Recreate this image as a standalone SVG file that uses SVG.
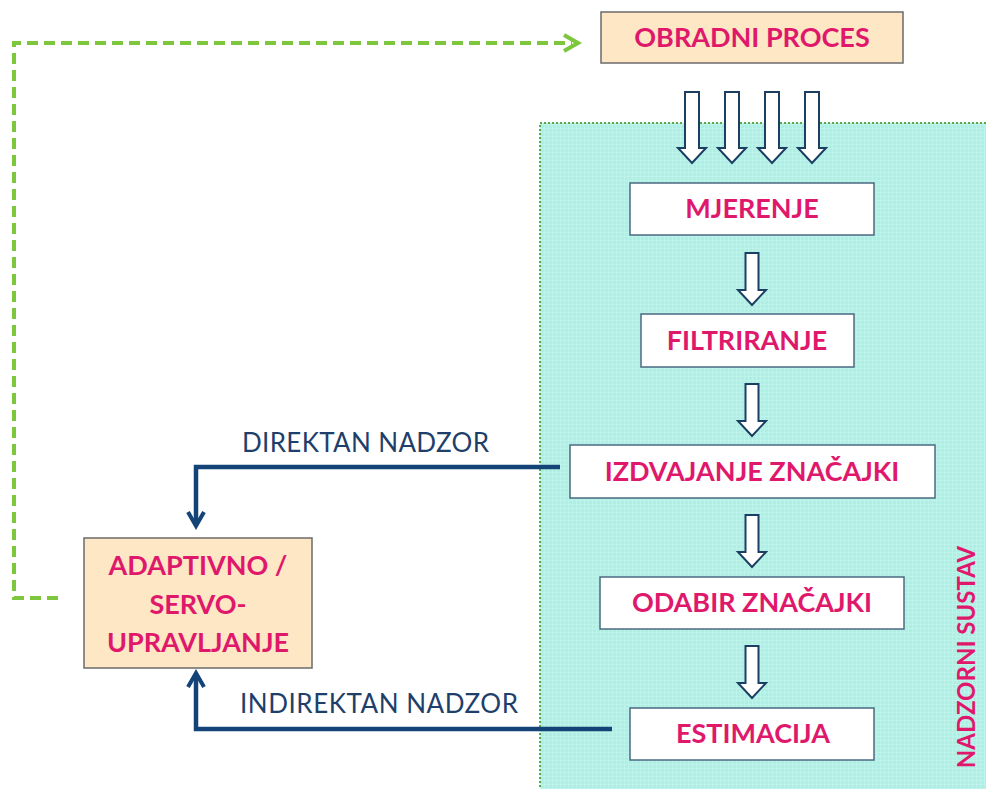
<svg xmlns="http://www.w3.org/2000/svg" width="986" height="789" viewBox="0 0 986 789">
<defs>
<style>
.box{fill:#ffffff;stroke:#4a6a80;stroke-width:1.5}
.pbox{fill:#fde7c4;stroke:#6b6b6b;stroke-width:1.5}
.t{font-family:Lato,"Open Sans","Liberation Sans",sans-serif;font-weight:bold;fill:#e0186c;text-anchor:middle}
.lbl{font-family:Lato,"Open Sans","Liberation Sans",sans-serif;fill:#1f3f6b;font-size:26px}
.ha{fill:#ffffff;stroke:#1a3f63;stroke-width:2;stroke-linejoin:miter}
.nv{fill:none;stroke:#134377;stroke-width:4.5}
.gr{fill:none;stroke:#7cc73c;stroke-width:4;stroke-dasharray:11 6}
</style>
<pattern id="grid" width="4" height="4" patternUnits="userSpaceOnUse">
<rect width="4" height="4" fill="#aeefe4"/>
<path d="M0 0.5H4M0.5 0V4" stroke="#bdf3ea" stroke-width="1"/>
</pattern>
<path id="bigArrow" d="M-7 0H7V56H14L0 71L-14 56H-7Z"/>
<path id="smArrow" d="M-6.5 0H6.5V37H14L0 52L-14 37H-6.5Z"/>
</defs>
<rect x="0" y="0" width="986" height="789" fill="#ffffff"/>
<g id="nadzorni-sustav">
<rect x="540" y="123" width="450" height="670" fill="url(#grid)" stroke="#5fa84a" stroke-width="2" stroke-dasharray="2 2"/>
<text class="t" font-size="24" transform="translate(975,657) rotate(-90)">NADZORNI SUSTAV</text>
</g>
<g id="connectors">
<path class="gr" d="M58 598H14V43H572"/>
<path d="M564 35L578 43L564 51" fill="none" stroke="#7cc73c" stroke-width="4"/>
<path class="nv" d="M560 467H196V524"/>
<path d="M188 512L196 526L204 512" fill="none" stroke="#134377" stroke-width="4"/>
<path class="nv" d="M612 729H196V675"/>
<path d="M188 687L196 673L204 687" fill="none" stroke="#134377" stroke-width="4"/>
<use href="#bigArrow" class="ha" x="692" y="92"/>
<use href="#bigArrow" class="ha" x="732" y="92"/>
<use href="#bigArrow" class="ha" x="772" y="92"/>
<use href="#bigArrow" class="ha" x="812" y="92"/>
<use href="#smArrow" class="ha" x="752" y="253"/>
<use href="#smArrow" class="ha" x="752" y="384"/>
<use href="#smArrow" class="ha" x="752" y="515"/>
<use href="#smArrow" class="ha" x="752" y="646"/>
<text class="lbl" x="242" y="452" textLength="247" lengthAdjust="spacing">DIREKTAN NADZOR</text>
<text class="lbl" x="240" y="713" textLength="278" lengthAdjust="spacing">INDIREKTAN NADZOR</text>
</g>
<g id="obradni-proces">
<rect class="pbox" x="601" y="12" width="302" height="51"/>
<text class="t" x="752" y="47" font-size="27">OBRADNI PROCES</text>
</g>
<g id="mjerenje">
<rect class="box" x="630" y="183" width="244" height="52"/>
<text class="t" x="752" y="218" font-size="27">MJERENJE</text>
</g>
<g id="filtriranje">
<rect class="box" x="641" y="314" width="213" height="53"/>
<text class="t" x="747" y="350" font-size="27">FILTRIRANJE</text>
</g>
<g id="izdvajanje">
<rect class="box" x="570" y="445" width="365" height="53"/>
<text class="t" x="752" y="481" font-size="27">IZDVAJANJE ZNAČAJKI</text>
</g>
<g id="odabir">
<rect class="box" x="600" y="577" width="304" height="52"/>
<text class="t" x="752" y="612" font-size="27">ODABIR ZNAČAJKI</text>
</g>
<g id="estimacija">
<rect class="box" x="630" y="708" width="244" height="52"/>
<text class="t" x="753" y="743" font-size="27">ESTIMACIJA</text>
</g>
<g id="adaptivno">
<rect class="pbox" x="84" y="538" width="228" height="130"/>
<text class="t" x="198" y="575" font-size="27">ADAPTIVNO /</text>
<text class="t" x="198" y="614" font-size="27">SERVO-</text>
<text class="t" x="198" y="652" font-size="27">UPRAVLJANJE</text>
</g>
</svg>
